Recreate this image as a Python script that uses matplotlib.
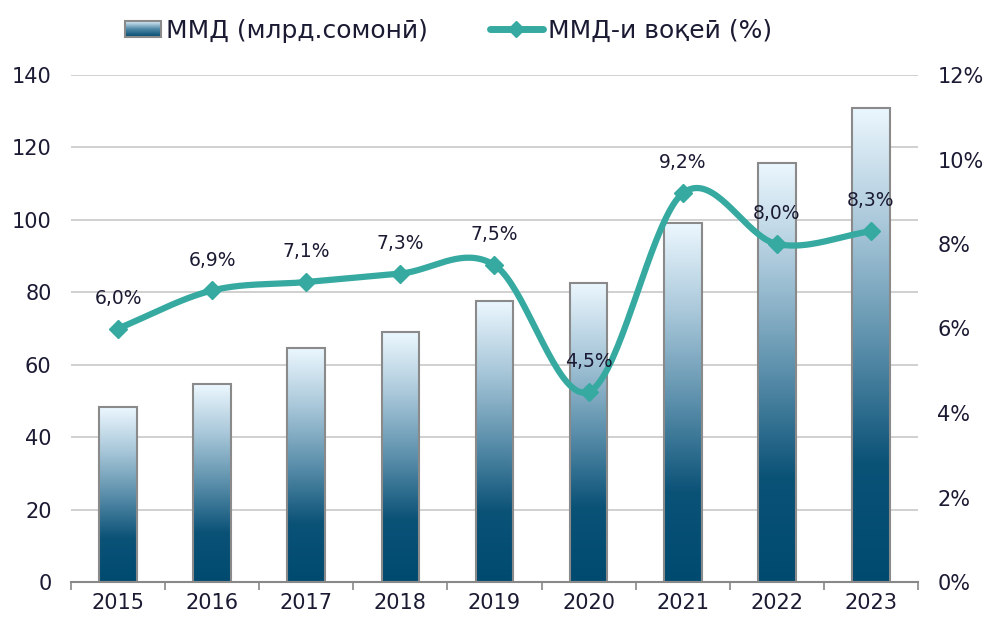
import numpy as np
import matplotlib
matplotlib.use("Agg")
import matplotlib.pyplot as plt
from matplotlib.colors import LinearSegmentedColormap
from matplotlib.patches import Rectangle
from matplotlib.lines import Line2D
from matplotlib.legend_handler import HandlerBase

years = ["2015", "2016", "2017", "2018", "2019", "2020", "2021", "2022", "2023"]
gdp = [48.3, 54.6, 64.6, 69.0, 77.5, 82.6, 99.0, 115.8, 131.0]
growth = [6.0, 6.9, 7.1, 7.3, 7.5, 4.5, 9.2, 8.0, 8.3]
growth_labels = ["6,0%", "6,9%", "7,1%", "7,3%", "7,5%", "4,5%", "9,2%", "8,0%", "8,3%"]

plt.rcParams['font.family'] = ['DejaVu Sans']
text_color = '#1a1a33'
line_color = '#36aaa0'

cmap = LinearSegmentedColormap.from_list('g', [
    (0.0, '#004a70'), (0.25, '#0b5277'), (0.5, '#5b8fab'),
    (0.75, '#a8c7d9'), (1.0, '#ecf7fe')])

fig = plt.figure(figsize=(9.9, 6.24), dpi=100)
ax = fig.add_axes([71/990, 1-582/624, (918-71)/990, (582-75)/624])
ax2 = ax.twinx()

x = np.arange(len(years))
w = 0.4
grad = np.linspace(0, 1, 256).reshape(-1, 1)
for xi, v in zip(x, gdp):
    im = ax.imshow(grad, cmap=cmap, origin='lower', aspect='auto',
                   extent=[xi - w/2, xi + w/2, 0, v], zorder=2)
    r = Rectangle((xi - w/2, 0), w, v, facecolor='none', edgecolor='#8a8a8a',
                  linewidth=1.5, zorder=3)
    ax.add_patch(r)
    im.set_clip_path(r)

ax.set_xlim(-0.5, len(years) - 0.5)
ax.set_ylim(0, 140)
ax.set_yticks(range(0, 141, 20))
ax.grid(axis='y', color='#c8c8c8', linewidth=1.2, zorder=0)
ax.set_axisbelow(True)
ax.set_xticks(x)
ax.set_xticklabels(years)
ax.set_xticks(np.arange(-0.5, len(years)), minor=True)
ax.tick_params(axis='x', which='major', length=0, pad=8, labelsize=15, colors=text_color)
ax.tick_params(axis='x', which='minor', length=6, width=1.2, color='#888888')
ax.tick_params(axis='y', length=0, pad=14, labelsize=15, colors=text_color)
for s in ['top', 'left', 'right']:
    ax.spines[s].set_visible(False)
    ax2.spines[s].set_visible(False)
ax.spines['bottom'].set_color('#888888')
ax.spines['bottom'].set_linewidth(1.5)
ax2.spines['bottom'].set_visible(False)

ax2.set_ylim(0, 12)
ax2.set_yticks(range(0, 13, 2))
ax2.set_yticklabels([f"{v}%" for v in range(0, 13, 2)])
ax2.tick_params(axis='y', length=0, pad=14, labelsize=15, colors=text_color)

# Catmull-Rom smoothing
def catmull(xs, ys, n=40):
    xs = np.asarray(xs, float); ys = np.asarray(ys, float)
    px = np.concatenate([[2*xs[0]-xs[1]], xs, [2*xs[-1]-xs[-2]]])
    py = np.concatenate([[2*ys[0]-ys[1]], ys, [2*ys[-1]-ys[-2]]])
    ox, oy = [], []
    for i in range(1, len(px) - 2):
        t = np.linspace(0, 1, n)
        p0x, p1x, p2x, p3x = px[i-1:i+3]
        p0y, p1y, p2y, p3y = py[i-1:i+3]
        b1x = p1x + (p2x - p0x)/6; b1y = p1y + (p2y - p0y)/6
        b2x = p2x - (p3x - p1x)/6; b2y = p2y - (p3y - p1y)/6
        cx = (1-t)**3*p1x + 3*(1-t)**2*t*b1x + 3*(1-t)*t**2*b2x + t**3*p2x
        cy = (1-t)**3*p1y + 3*(1-t)**2*t*b1y + 3*(1-t)*t**2*b2y + t**3*p2y
        ox.extend(cx); oy.extend(cy)
    return np.array(ox), np.array(oy)

sx, sy = catmull(x, growth)
ax2.plot(sx, sy, color=line_color, linewidth=4.5, solid_capstyle='round', zorder=4)
ax2.plot(x, growth, linestyle='none', marker='D', markersize=9, color=line_color, zorder=5)
for xi, v, lab in zip(x, growth, growth_labels):
    ax2.annotate(lab, (xi, v), xytext=(0, 15), textcoords='offset points',
                 ha='center', va='bottom', fontsize=13.5, color=text_color, zorder=6)

# legend
class GradHandler(HandlerBase):
    def create_artists(self, legend, orig, xd, yd, width, height, fontsize, trans):
        from matplotlib.image import BboxImage
        from matplotlib.transforms import Bbox, TransformedBbox
        bw = width * 0.68
        x0 = xd + width - bw
        h = height * 0.9
        y0 = yd + (height - h) / 2
        r = Rectangle((x0, y0), bw, h, facecolor='none',
                      edgecolor='#8a8a8a', linewidth=1.5, transform=trans)
        bb = TransformedBbox(Bbox.from_bounds(x0, y0, bw, h), trans)
        img = BboxImage(bb, cmap=LinearSegmentedColormap.from_list('h', ['#dceef8', '#4f88a6', '#004a70']),
                        interpolation='bicubic')
        img.set_data(np.linspace(0, 1, 64).reshape(-1, 1))
        return [img, r]

bar_handle = Rectangle((0, 0), 1, 1)
line_handle = Line2D([], [], color=line_color, linewidth=5, marker='D', markersize=8,
                     solid_capstyle='round')
fig.legend([bar_handle, line_handle], ["ММД (млрд.сомонӣ)", "ММД-и воқеӣ (%)"],
           handler_map={Rectangle: GradHandler()},
           loc='center', bbox_to_anchor=(440/990, 1-31/624), ncol=2, frameon=False,
           fontsize=18, handlelength=2.1, columnspacing=2.5, handletextpad=0.2,
           labelcolor=text_color)

fig.savefig('out.png', dpi=100)
